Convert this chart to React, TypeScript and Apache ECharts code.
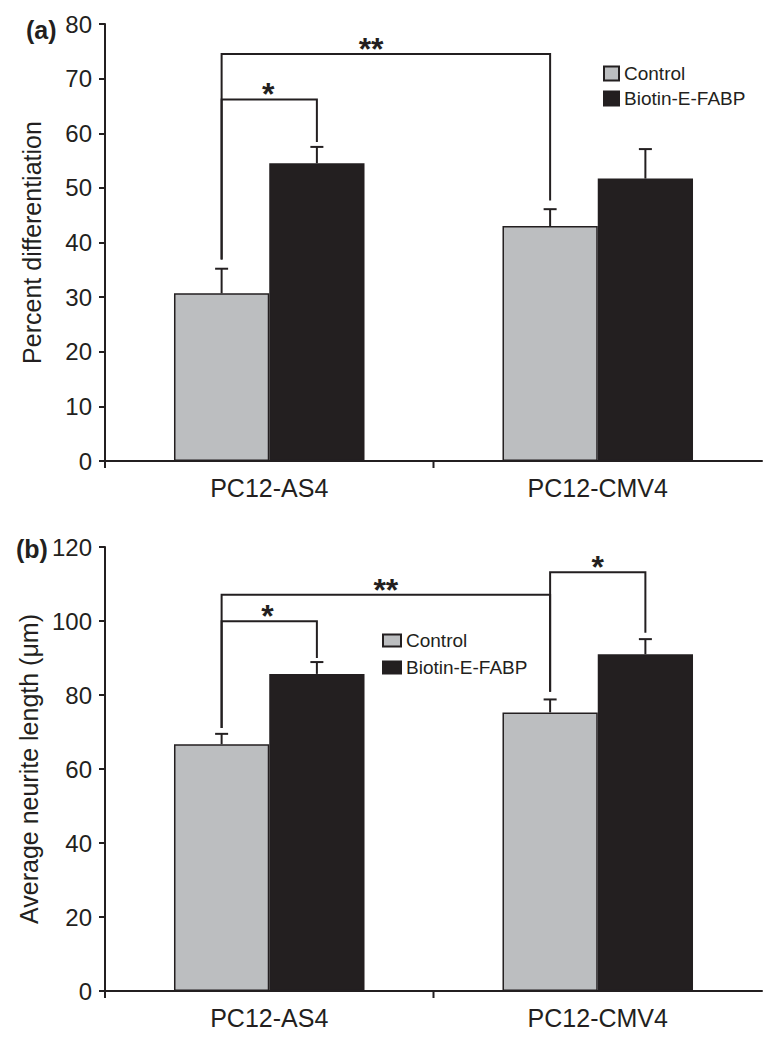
import React, { useEffect, useRef } from 'react';
import * as echarts from 'echarts';

const categories = ['PC12-AS4', 'PC12-CMV4'];
const seriesNames = ['Control', 'Biotin-E-FABP'];

// Panel (a): percent differentiation
const diffControl = [30.7, 43.0];
const diffControlErr = [4.5, 3.1];
const diffBiotin = [54.5, 51.7];
const diffBiotinErr = [3.0, 5.4];

// Panel (b): average neurite length (µm)
const lengthControl = [66.7, 75.3];
const lengthControlErr = [2.8, 3.5];
const lengthBiotin = [85.7, 91.0];
const lengthBiotinErr = [3.2, 4.1];

// Significance brackets: [catFrom, barFrom(-1 control / 1 biotin), yFrom, catTo, barTo, yTo, yTop]
const diffBrackets = [
  [0, -1, 36.9, 0, 1, 58.4, 66.2],
  [0, -1, 36.9, 1, -1, 47.7, 74.5],
];
const diffBracketLabels = ['*', '**'];
const diffBracketLabelAt = [0.49, 0.455];

const lengthBrackets = [
  [0, -1, 71.1, 0, 1, 90.0, 99.9],
  [0, -1, 71.1, 1, -1, 80.9, 107.1],
  [1, -1, 80.9, 1, 1, 96.8, 113.2],
];
const lengthBracketLabels = ['*', '**', '*'];
const lengthBracketLabelAt = [0.48, 0.5, 0.5];

const DARK = '#231f20';
const GRAY = '#bcbec0';
const FONT = '"Liberation Sans", Arial, Helvetica, sans-serif';
const BAR_FRAC = 0.29;

function errRender(params: any, api: any) {
  const cat = api.value(0);
  const val = api.value(1);
  const err = api.value(2);
  const side = api.value(3);
  const band = api.size([1, 0])[0];
  const half = (band * BAR_FRAC) / 2;
  const base = api.coord([cat, val]);
  const top = api.coord([cat, val + err]);
  const x = base[0] + side * half;
  const cap = 6.5;
  return {
    type: 'group',
    children: [
      { type: 'line', shape: { x1: x, y1: base[1], x2: x, y2: top[1] }, style: { stroke: DARK, lineWidth: 2 } },
      { type: 'line', shape: { x1: x - cap, y1: top[1], x2: x + cap, y2: top[1] }, style: { stroke: DARK, lineWidth: 2 } },
    ],
  };
}

function makeBracketRender(brackets: number[][], labels: string[], at: number[]) {
  return (params: any, api: any) => {
    const i = params.dataIndex;
    const b = brackets[i];
    const band = api.size([1, 0])[0];
    const half = (band * BAR_FRAC) / 2;
    const p1 = api.coord([b[0], b[2]]);
    const p2 = api.coord([b[3], b[5]]);
    const yTop = api.coord([b[0], b[6]])[1];
    const x1 = p1[0] + b[1] * half;
    const x2 = p2[0] + b[4] * half;
    return {
      type: 'group',
      children: [
        {
          type: 'polyline',
          shape: { points: [[x1, p1[1]], [x1, yTop], [x2, yTop], [x2, p2[1]]] },
          style: { stroke: DARK, lineWidth: 2, fill: null },
        },
        {
          type: 'text',
          x: x1 + (x2 - x1) * at[i],
          y: yTop - 5,
          style: {
            text: labels[i],
            fontSize: 32,
            fontWeight: 'bold',
            fontFamily: FONT,
            fill: DARK,
            align: 'center',
            verticalAlign: 'middle',
          },
        },
      ],
    };
  };
}

function tickRender(params: any, api: any) {
  const cat = api.value(0);
  const band = api.size([1, 0])[0];
  const p = api.coord([cat, 0]);
  const x = p[0] - band / 2;
  return {
    type: 'line',
    shape: { x1: x, y1: p[1], x2: x, y2: p[1] + 7 },
    style: { stroke: DARK, lineWidth: 2 },
  };
}

function errData(values: number[], errs: number[], side: number) {
  return values.map((v, i) => [i, v, errs[i], side]);
}

export default function App() {
  const ref = useRef<HTMLDivElement>(null);

  useEffect(() => {
    if (!ref.current) return;
    const chart = echarts.init(ref.current, null, { renderer: 'svg' });

    const xAxisBase = (gridIndex: number) => ({
      type: 'category',
      gridIndex,
      data: categories,
      axisLine: { lineStyle: { color: DARK, width: 2 } },
      axisTick: { show: false },
      axisLabel: { fontSize: 25, color: DARK, margin: 14, fontFamily: FONT },
    });
    const yAxisBase = (gridIndex: number, max: number, interval: number, name: string) => ({
      type: 'value',
      gridIndex,
      min: 0,
      max,
      interval,
      name,
      nameLocation: 'middle',
      nameGap: 61,
      nameTextStyle: { fontSize: 25, color: DARK, fontFamily: FONT },
      splitLine: { show: false },
      axisLine: { show: true, lineStyle: { color: DARK, width: 2 } },
      axisTick: { show: true, length: 6, lineStyle: { color: DARK, width: 2 } },
      axisLabel: { fontSize: 24, color: DARK, margin: 13, fontFamily: FONT },
    });

    const legendBase = {
      data: seriesNames,
      orient: 'vertical',
      icon: 'rect',
      textStyle: { fontSize: 19, color: DARK, fontFamily: FONT },
      itemStyle: { borderColor: DARK, borderWidth: 2 },
      selectedMode: false,
    };

    const barSeries = (name: string, color: string, data: number[], idx: number) => ({
      name,
      type: 'bar',
      xAxisIndex: idx,
      yAxisIndex: idx,
      data,
      barWidth: '29%',
      barGap: '0%',
      itemStyle: { color, borderColor: DARK, borderWidth: 1.5 },
      z: 2,
    });

    chart.setOption({
      animation: false,
      textStyle: { fontFamily: FONT },
      grid: [
        { left: 105, right: 14, top: 24, height: 437 },
        { left: 105, right: 14, top: 547, height: 444 },
      ],
      xAxis: [xAxisBase(0), xAxisBase(1)],
      yAxis: [
        yAxisBase(0, 80, 10, 'Percent differentiation'),
        yAxisBase(1, 120, 20, 'Average neurite length (\u03bcm)'),
      ],
      legend: [
        { ...legendBase, left: 598, top: 59, itemWidth: 15, itemHeight: 14, itemGap: 6 },
        { ...legendBase, left: 377, top: 626, itemWidth: 18, itemHeight: 12, itemGap: 8 },
      ],
      graphic: [
        { type: 'text', x: 26, y: 30, style: { text: '(a)', fontSize: 25, fontWeight: 'bold', fill: DARK, fontFamily: FONT, verticalAlign: 'middle' } },
        { type: 'text', x: 16, y: 549, style: { text: '(b)', fontSize: 25, fontWeight: 'bold', fill: DARK, fontFamily: FONT, verticalAlign: 'middle' } },
      ],
      series: [
        barSeries(seriesNames[0], GRAY, diffControl, 0),
        barSeries(seriesNames[1], DARK, diffBiotin, 0),
        barSeries(seriesNames[0], GRAY, lengthControl, 1),
        barSeries(seriesNames[1], DARK, lengthBiotin, 1),
        {
          type: 'custom', name: 'errA', xAxisIndex: 0, yAxisIndex: 0, z: 5, silent: true,
          renderItem: errRender, encode: { x: 0, y: 1 },
          data: [...errData(diffControl, diffControlErr, -1), ...errData(diffBiotin, diffBiotinErr, 1)],
        },
        {
          type: 'custom', name: 'errB', xAxisIndex: 1, yAxisIndex: 1, z: 5, silent: true,
          renderItem: errRender, encode: { x: 0, y: 1 },
          data: [...errData(lengthControl, lengthControlErr, -1), ...errData(lengthBiotin, lengthBiotinErr, 1)],
        },
        {
          type: 'custom', name: 'brA', xAxisIndex: 0, yAxisIndex: 0, z: 5, silent: true,
          renderItem: makeBracketRender(diffBrackets, diffBracketLabels, diffBracketLabelAt),
          encode: { x: 0, y: 1 },
          data: diffBrackets.map((b) => [b[0], b[6]]),
        },
        {
          type: 'custom', name: 'brB', xAxisIndex: 1, yAxisIndex: 1, z: 5, silent: true,
          renderItem: makeBracketRender(lengthBrackets, lengthBracketLabels, lengthBracketLabelAt),
          encode: { x: 0, y: 1 },
          data: lengthBrackets.map((b) => [b[0], b[6]]),
        },
        {
          type: 'custom', name: 'tickA', xAxisIndex: 0, yAxisIndex: 0, z: 5, silent: true, clip: false,
          renderItem: tickRender, encode: { x: 0, y: 1 },
          data: categories.map((_, i) => [i, 0]),
        },
        {
          type: 'custom', name: 'tickB', xAxisIndex: 1, yAxisIndex: 1, z: 5, silent: true, clip: false,
          renderItem: tickRender, encode: { x: 0, y: 1 },
          data: categories.map((_, i) => [i, 0]),
        },
      ],
    });

    return () => chart.dispose();
  }, []);

  return (
    <div
      ref={ref}
      style={{ position: 'absolute', left: 0, top: 0, width: 776, height: 1050, background: '#fff' }}
    />
  );
}
